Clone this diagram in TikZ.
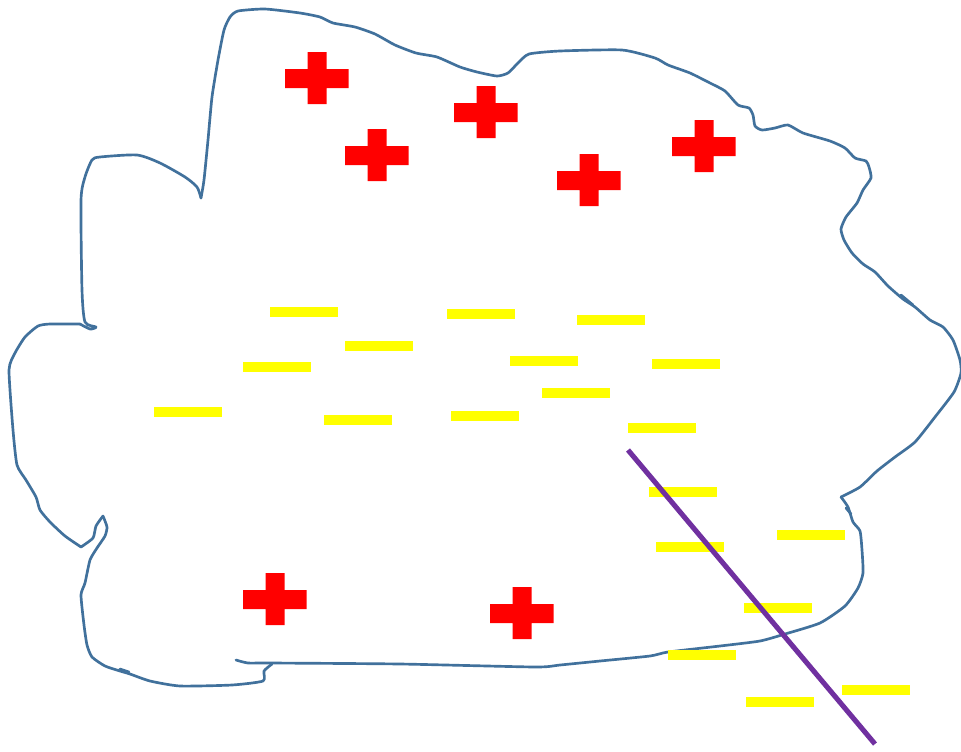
\documentclass[tikz,border=0pt]{standalone}
\definecolor{outlineblue}{HTML}{41719C}
\definecolor{linepurple}{HTML}{7030A0}
\definecolor{crossred}{RGB}{255,0,0}
\definecolor{baryellow}{RGB}{255,255,0}
\tikzset{
  outline/.style={draw=outlineblue,line width=2pt,line join=round,line cap=round},
  redcross/.style={fill=crossred,draw=none},
  yellowbar/.style={fill=baryellow,draw=none},
  slash/.style={draw=linepurple,line width=3.8pt}
}
\newcommand{\crossat}[2]{\fill[redcross,shift={(#1,#2)}] (-9.5,-26)--(9.5,-26)--(9.5,-9)--(31.5,-9)--(31.5,10)--(9.5,10)--(9.5,26)--(-9.5,26)--(-9.5,10)--(-32,10)--(-32,-9)--(-9.5,-9)--cycle;}
\newcommand{\barat}[2]{\fill[yellowbar] (#1-34,#2-4.6) rectangle (#1+34,#2+5.4);}
\begin{document}
\begin{tikzpicture}[x=0.75pt,y=-0.75pt]
\useasboundingbox (0,0) rectangle (961,751);
\fill[white] (0,0) rectangle (961,751);
% outline
\draw[outline] plot[smooth,tension=0.35] coordinates {
(201,198)(204,180)(208,140)(212,97)(218,60)(224,30)(230,17)(238,11)(265,9)(300,13)(320,17)(333,23)(355,27)(375,34)(395,45)(416,53)(437,57)(460,67)(477,72)(497,76)(508,73)(518,63)(529,54)(560,51)(622,50)(655,58)(668,65)(690,73)(710,83)(725,91)(738,105)(749,108)(753,115)(755,126)(762,130)(775,128)(788,125)(803,133)(830,141)(845,148)(855,158)(866,161)(869,167)(871,178)(863,190)(857,203)(846,217)(841,229)(844,240)(852,253)(863,264)(875,272)(888,286)(903,299)(915,307)(930,320)(943,327)(953,340)(960,360)(961,373)(954,392)(935,417)(915,442)(895,457)(877,471)(860,487)(841,497)};
\draw[outline] plot[smooth,tension=0.35] coordinates {
(841,497)(848,507)(853,522)(860,531)(862,550)(863,573)(858,588)(845,606)(820,623)(785,634)(760,641)(720,646)(668,652)(650,656)(600,661)(560,665)(535,667)(400,664)(270,663)(248,663)(236,660)};
\draw[outline] (901,295)--(913,305);
\draw[outline] (846,508)--(851,514);
\draw[outline] plot[smooth,tension=0.35] coordinates {
(272,664)(264,671)(263,681)(232,685)(180,686)(150,681)(130,674)(120,671)(105,666)(92,657)(87,645)(84,625)(81,595)(85,583)(90,560)(97,548)(105,536)(107,527)(103,516)};
\draw[outline] (120,669)--(129,672);
\draw[outline] plot[smooth,tension=0.35] coordinates {
(103,516)(96,526)(93,538)(81,547)};
\draw[outline] plot[smooth,tension=0.35] coordinates {
(81,547)(65,536)(50,522)(40,510)(36,497)(26,480)(17,465)(13,430)(9,370)(15,353)(25,337)(38,326)(50,324)(80,324)};
\draw[outline] plot[smooth,tension=0.4] coordinates {
(80,324)(90,329)(96,327)(85,322)(82,290)(81,200)(85,177)(92,160)(100,157)(137,155)(160,163)(185,177)(197,187)(201,198)};
% crosses
\crossat{317}{78}
\crossat{377}{155}
\crossat{486}{112}
\crossat{589}{180}
\crossat{704}{146}
\crossat{275}{599}
\crossat{522}{613}
% bars
\barat{304}{312}
\barat{379}{346}
\barat{277}{367}
\barat{188}{412}
\barat{358}{420}
\barat{481}{314}
\barat{611}{320}
\barat{544}{361}
\barat{686}{364}
\barat{576}{393}
\barat{485}{416}
\barat{662}{428}
\barat{683}{492}
\barat{690}{547}
\barat{811}{535}
\barat{778}{608}
\barat{702}{655}
\barat{780}{702}
\barat{876}{690}
% line
\draw[slash] (628,450)--(875,744);
\end{tikzpicture}
\end{document}
